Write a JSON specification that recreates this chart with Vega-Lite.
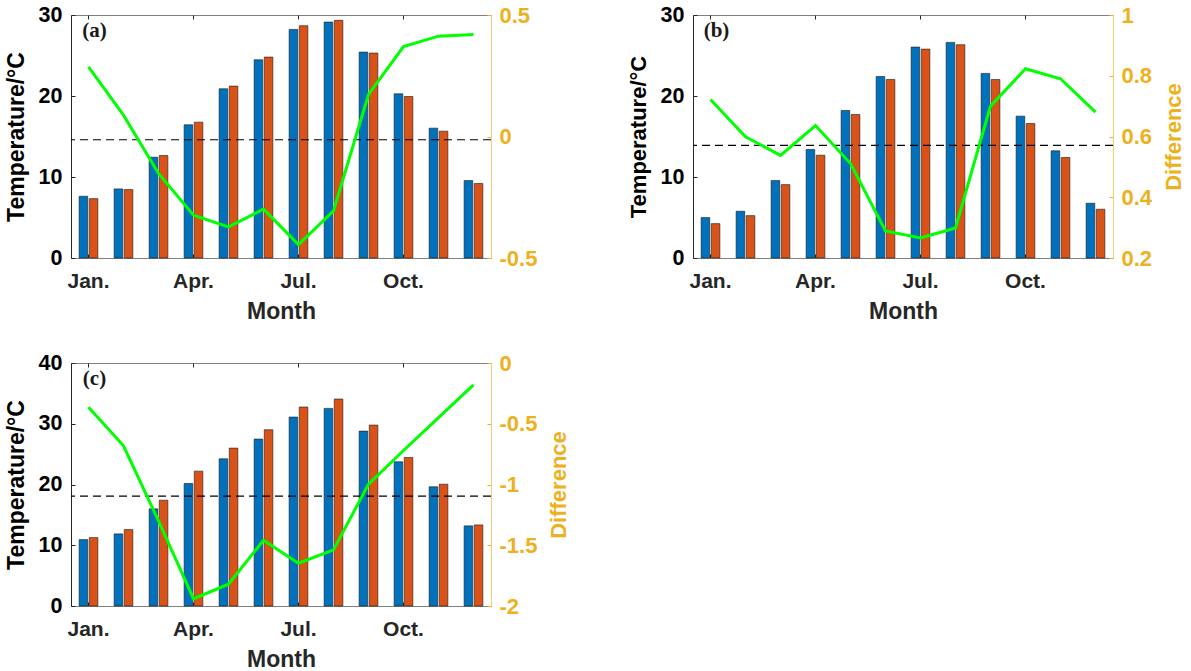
{
  "$schema": "https://vega.github.io/schema/vega-lite/v6.json",
  "background": "white",
  "padding": {"left": 4, "top": 3, "right": 8, "bottom": 0},
  "datasets": {
    "barsA": [
      {"month": "Jan.", "series": "Series 1", "temp": 7.62}, {"month": "Jan.", "series": "Series 2", "temp": 7.33},
      {"month": "Feb.", "series": "Series 1", "temp": 8.53}, {"month": "Feb.", "series": "Series 2", "temp": 8.45},
      {"month": "Mar.", "series": "Series 1", "temp": 12.44}, {"month": "Mar.", "series": "Series 2", "temp": 12.65},
      {"month": "Apr.", "series": "Series 1", "temp": 16.44}, {"month": "Apr.", "series": "Series 2", "temp": 16.77},
      {"month": "May", "series": "Series 1", "temp": 20.89}, {"month": "May", "series": "Series 2", "temp": 21.22},
      {"month": "Jun.", "series": "Series 1", "temp": 24.47}, {"month": "Jun.", "series": "Series 2", "temp": 24.8},
      {"month": "Jul.", "series": "Series 1", "temp": 28.22}, {"month": "Jul.", "series": "Series 2", "temp": 28.68},
      {"month": "Aug.", "series": "Series 1", "temp": 29.13}, {"month": "Aug.", "series": "Series 2", "temp": 29.34},
      {"month": "Sep.", "series": "Series 1", "temp": 25.42}, {"month": "Sep.", "series": "Series 2", "temp": 25.3},
      {"month": "Oct.", "series": "Series 1", "temp": 20.27}, {"month": "Oct.", "series": "Series 2", "temp": 19.94},
      {"month": "Nov.", "series": "Series 1", "temp": 16.03}, {"month": "Nov.", "series": "Series 2", "temp": 15.66},
      {"month": "Dec.", "series": "Series 1", "temp": 9.56}, {"month": "Dec.", "series": "Series 2", "temp": 9.19}
    ],
    "lineA": [
      {"month": "Jan.", "diff": 0.287}, {"month": "Feb.", "diff": 0.088}, {"month": "Mar.", "diff": -0.152},
      {"month": "Apr.", "diff": -0.324}, {"month": "May", "diff": -0.372}, {"month": "Jun.", "diff": -0.299},
      {"month": "Jul.", "diff": -0.445}, {"month": "Aug.", "diff": -0.306}, {"month": "Sep.", "diff": 0.173},
      {"month": "Oct.", "diff": 0.37}, {"month": "Nov.", "diff": 0.413}, {"month": "Dec.", "diff": 0.42}
    ],
    "barsB": [
      {"month": "Jan.", "series": "Series 1", "temp": 4.99}, {"month": "Jan.", "series": "Series 2", "temp": 4.24},
      {"month": "Feb.", "series": "Series 1", "temp": 5.77}, {"month": "Feb.", "series": "Series 2", "temp": 5.23},
      {"month": "Mar.", "series": "Series 1", "temp": 9.56}, {"month": "Mar.", "series": "Series 2", "temp": 9.06},
      {"month": "Apr.", "series": "Series 1", "temp": 13.39}, {"month": "Apr.", "series": "Series 2", "temp": 12.69},
      {"month": "May", "series": "Series 1", "temp": 18.21}, {"month": "May", "series": "Series 2", "temp": 17.72},
      {"month": "Jun.", "series": "Series 1", "temp": 22.41}, {"month": "Jun.", "series": "Series 2", "temp": 22.04},
      {"month": "Jul.", "series": "Series 1", "temp": 26.04}, {"month": "Jul.", "series": "Series 2", "temp": 25.79},
      {"month": "Aug.", "series": "Series 1", "temp": 26.62}, {"month": "Aug.", "series": "Series 2", "temp": 26.33},
      {"month": "Sep.", "series": "Series 1", "temp": 22.79}, {"month": "Sep.", "series": "Series 2", "temp": 22.04},
      {"month": "Oct.", "series": "Series 1", "temp": 17.51}, {"month": "Oct.", "series": "Series 2", "temp": 16.6},
      {"month": "Nov.", "series": "Series 1", "temp": 13.23}, {"month": "Nov.", "series": "Series 2", "temp": 12.4},
      {"month": "Dec.", "series": "Series 1", "temp": 6.76}, {"month": "Dec.", "series": "Series 2", "temp": 6.02}
    ],
    "lineB": [
      {"month": "Jan.", "diff": 0.722}, {"month": "Feb.", "diff": 0.599}, {"month": "Mar.", "diff": 0.538},
      {"month": "Apr.", "diff": 0.636}, {"month": "May", "diff": 0.511}, {"month": "Jun.", "diff": 0.289},
      {"month": "Jul.", "diff": 0.266}, {"month": "Aug.", "diff": 0.299}, {"month": "Sep.", "diff": 0.7},
      {"month": "Oct.", "diff": 0.823}, {"month": "Nov.", "diff": 0.79}, {"month": "Dec.", "diff": 0.68}
    ],
    "barsC": [
      {"month": "Jan.", "series": "Series 1", "temp": 10.93}, {"month": "Jan.", "series": "Series 2", "temp": 11.26},
      {"month": "Feb.", "series": "Series 1", "temp": 11.87}, {"month": "Feb.", "series": "Series 2", "temp": 12.58},
      {"month": "Mar.", "series": "Series 1", "temp": 15.99}, {"month": "Mar.", "series": "Series 2", "temp": 17.42},
      {"month": "Apr.", "series": "Series 1", "temp": 20.16}, {"month": "Apr.", "series": "Series 2", "temp": 22.2},
      {"month": "May", "series": "Series 1", "temp": 24.23}, {"month": "May", "series": "Series 2", "temp": 25.99},
      {"month": "Jun.", "series": "Series 1", "temp": 27.47}, {"month": "Jun.", "series": "Series 2", "temp": 29.01},
      {"month": "Jul.", "series": "Series 1", "temp": 31.1}, {"month": "Jul.", "series": "Series 2", "temp": 32.75},
      {"month": "Aug.", "series": "Series 1", "temp": 32.53}, {"month": "Aug.", "series": "Series 2", "temp": 34.07},
      {"month": "Sep.", "series": "Series 1", "temp": 28.79}, {"month": "Sep.", "series": "Series 2", "temp": 29.78},
      {"month": "Oct.", "series": "Series 1", "temp": 23.74}, {"month": "Oct.", "series": "Series 2", "temp": 24.45},
      {"month": "Nov.", "series": "Series 1", "temp": 19.62}, {"month": "Nov.", "series": "Series 2", "temp": 20.05},
      {"month": "Dec.", "series": "Series 1", "temp": 13.19}, {"month": "Dec.", "series": "Series 2", "temp": 13.35}
    ],
    "lineC": [
      {"month": "Jan.", "diff": -0.365}, {"month": "Feb.", "diff": -0.681}, {"month": "Mar.", "diff": -1.299},
      {"month": "Apr.", "diff": -1.94}, {"month": "May", "diff": -1.821}, {"month": "Jun.", "diff": -1.459},
      {"month": "Jul.", "diff": -1.648}, {"month": "Aug.", "diff": -1.538}, {"month": "Sep.", "diff": -0.997},
      {"month": "Oct.", "diff": -0.72}, {"month": "Nov.", "diff": -0.45}, {"month": "Dec.", "diff": -0.18}
    ]
  },
  "columns": 2,
  "bounds": "flush",
  "spacing": {"row": 105, "column": 202},
  "concat": [
    {
      "width": 420, "height": 243,
      "layer": [
        {
          "layer": [
            {
              "data": {"name": "barsA"},
              "mark": {"type": "bar", "stroke": "#1a1a1a", "strokeWidth": 0.6},
              "encoding": {
                "x": {"field": "month", "type": "ordinal",
                  "scale": {"domain": ["Jan.","Feb.","Mar.","Apr.","May","Jun.","Jul.","Aug.","Sep.","Oct.","Nov.","Dec."], "paddingInner": 0.465, "paddingOuter": 0.2325},
                  "axis": {"orient": "bottom", "values": ["Jan.","Apr.","Jul.","Oct."], "title": "Month"}},
                "xOffset": {"field": "series", "type": "nominal", "scale": {"paddingInner": 0.15, "paddingOuter": 0}},
                "y": {"field": "temp", "type": "quantitative", "scale": {"domain": [0, 30], "nice": false},
                  "axis": {"orient": "left", "values": [0, 10, 20, 30], "title": "Temperature/°C"}},
                "color": {"field": "series", "type": "nominal", "scale": {"range": ["#0072BD", "#D95319"]}, "legend": null}
              }
            },
            {
              "data": {"values": [{"ref": 14.6}]},
              "mark": {"type": "rule", "color": "#000000", "strokeWidth": 1.2, "strokeDash": [8, 5]},
              "encoding": {"y": {"field": "ref", "type": "quantitative"}}
            },
            {
              "data": {"values": [{"label": "(a)", "month": "Jan.", "pos": 27.3}]},
              "mark": {"type": "text", "font": "Liberation Serif", "fontWeight": "bold", "fontSize": 21, "color": "#1a1a1a", "align": "center", "baseline": "alphabetic", "dx": 6},
              "encoding": {"x": {"field": "month", "type": "ordinal"}, "y": {"field": "pos", "type": "quantitative"}, "text": {"field": "label"}}
            }
          ]
        },
        {
          "data": {"name": "lineA"},
          "mark": {"type": "line", "color": "#00FF00", "strokeWidth": 3},
          "encoding": {
            "x": {"field": "month", "type": "ordinal", "axis": {"orient": "top", "values": ["Jan.","Apr.","Jul.","Oct."], "title": null}},
            "y": {"field": "diff", "type": "quantitative", "scale": {"domain": [-0.5, 0.5], "nice": false},
              "axis": {"orient": "right", "values": [-0.5, 0, 0.5], "title": null,
                "labelExpr": "datum.value < 0 ? '-' + abs(datum.value) : '' + datum.value"}}
          }
        }
      ],
      "resolve": {"scale": {"y": "independent"}, "axis": {"x": "independent"}}
    },
    {
      "width": 420, "height": 243,
      "layer": [
        {
          "layer": [
            {
              "data": {"name": "barsB"},
              "mark": {"type": "bar", "stroke": "#1a1a1a", "strokeWidth": 0.6},
              "encoding": {
                "x": {"field": "month", "type": "ordinal",
                  "scale": {"domain": ["Jan.","Feb.","Mar.","Apr.","May","Jun.","Jul.","Aug.","Sep.","Oct.","Nov.","Dec."], "paddingInner": 0.465, "paddingOuter": 0.2325},
                  "axis": {"orient": "bottom", "values": ["Jan.","Apr.","Jul.","Oct."], "title": "Month"}},
                "xOffset": {"field": "series", "type": "nominal", "scale": {"paddingInner": 0.15, "paddingOuter": 0}},
                "y": {"field": "temp", "type": "quantitative", "scale": {"domain": [0, 30], "nice": false},
                  "axis": {"orient": "left", "values": [0, 10, 20, 30], "title": "Temperature/°C", "titleFontSize": 22}},
                "color": {"field": "series", "type": "nominal", "scale": {"range": ["#0072BD", "#D95319"]}, "legend": null}
              }
            },
            {
              "data": {"values": [{"ref": 13.9}]},
              "mark": {"type": "rule", "color": "#000000", "strokeWidth": 1.2, "strokeDash": [8, 5]},
              "encoding": {"y": {"field": "ref", "type": "quantitative"}}
            },
            {
              "data": {"values": [{"label": "(b)", "month": "Jan.", "pos": 27.3}]},
              "mark": {"type": "text", "font": "Liberation Serif", "fontWeight": "bold", "fontSize": 21, "color": "#1a1a1a", "align": "center", "baseline": "alphabetic", "dx": 6},
              "encoding": {"x": {"field": "month", "type": "ordinal"}, "y": {"field": "pos", "type": "quantitative"}, "text": {"field": "label"}}
            }
          ]
        },
        {
          "data": {"name": "lineB"},
          "mark": {"type": "line", "color": "#00FF00", "strokeWidth": 3},
          "encoding": {
            "x": {"field": "month", "type": "ordinal", "axis": {"orient": "top", "values": ["Jan.","Apr.","Jul.","Oct."], "title": null}},
            "y": {"field": "diff", "type": "quantitative", "scale": {"domain": [0.2, 1], "nice": false},
              "axis": {"orient": "right", "values": [0.2, 0.4, 0.6, 0.8, 1], "title": "Difference",
                "labelExpr": "datum.value < 0 ? '-' + abs(datum.value) : '' + datum.value"}}
          }
        }
      ],
      "resolve": {"scale": {"y": "independent"}, "axis": {"x": "independent"}}
    },
    {
      "width": 420, "height": 243,
      "layer": [
        {
          "layer": [
            {
              "data": {"name": "barsC"},
              "mark": {"type": "bar", "stroke": "#1a1a1a", "strokeWidth": 0.6},
              "encoding": {
                "x": {"field": "month", "type": "ordinal",
                  "scale": {"domain": ["Jan.","Feb.","Mar.","Apr.","May","Jun.","Jul.","Aug.","Sep.","Oct.","Nov.","Dec."], "paddingInner": 0.465, "paddingOuter": 0.2325},
                  "axis": {"orient": "bottom", "values": ["Jan.","Apr.","Jul.","Oct."], "title": "Month"}},
                "xOffset": {"field": "series", "type": "nominal", "scale": {"paddingInner": 0.15, "paddingOuter": 0}},
                "y": {"field": "temp", "type": "quantitative", "scale": {"domain": [0, 40], "nice": false},
                  "axis": {"orient": "left", "values": [0, 10, 20, 30, 40], "title": "Temperature/°C"}},
                "color": {"field": "series", "type": "nominal", "scale": {"range": ["#0072BD", "#D95319"]}, "legend": null}
              }
            },
            {
              "data": {"values": [{"ref": 18.1}]},
              "mark": {"type": "rule", "color": "#000000", "strokeWidth": 1.2, "strokeDash": [8, 5]},
              "encoding": {"y": {"field": "ref", "type": "quantitative"}}
            },
            {
              "data": {"values": [{"label": "(c)", "month": "Jan.", "pos": 36.4}]},
              "mark": {"type": "text", "font": "Liberation Serif", "fontWeight": "bold", "fontSize": 21, "color": "#1a1a1a", "align": "center", "baseline": "alphabetic", "dx": 6},
              "encoding": {"x": {"field": "month", "type": "ordinal"}, "y": {"field": "pos", "type": "quantitative"}, "text": {"field": "label"}}
            }
          ]
        },
        {
          "data": {"name": "lineC"},
          "mark": {"type": "line", "color": "#00FF00", "strokeWidth": 3},
          "encoding": {
            "x": {"field": "month", "type": "ordinal", "axis": {"orient": "top", "values": ["Jan.","Apr.","Jul.","Oct."], "title": null}},
            "y": {"field": "diff", "type": "quantitative", "scale": {"domain": [-2, 0], "nice": false},
              "axis": {"orient": "right", "values": [-2, -1.5, -1, -0.5, 0], "title": "Difference",
                "labelExpr": "datum.value < 0 ? '-' + abs(datum.value) : '' + datum.value"}}
          }
        }
      ],
      "resolve": {"scale": {"y": "independent"}, "axis": {"x": "independent"}}
    }
  ],
  "config": {
    "font": "Liberation Sans",
    "view": {"stroke": "#808080", "strokeWidth": 1},
    "axis": {"grid": false, "labelFont": "Liberation Sans", "titleFont": "Liberation Sans", "labelFontWeight": "bold", "titleFontWeight": "bold"},
    "axisBottom": {"domainColor": "#808080", "tickColor": "#262626", "tickSize": -4, "labelColor": "#262626", "labelFontSize": 21, "labelPadding": 16, "labelAngle": 0, "titleColor": "#262626", "titleFontSize": 23, "titlePadding": 9},
    "axisTop": {"domain": false, "labels": false, "tickColor": "#262626", "tickSize": -4},
    "axisLeft": {"domainColor": "#262626", "tickColor": "#262626", "tickSize": -4, "labelColor": "#000000", "labelFontSize": 21.5, "labelPadding": 13, "titleColor": "#000000", "titleFontSize": 23, "titlePadding": 10},
    "axisRight": {"domainColor": "#F2CF75", "tickColor": "#EDB120", "tickSize": -4, "labelColor": "#EDB120", "labelFontSize": 22, "labelPadding": 12, "titleColor": "#EDB120", "titleFontSize": 22, "titlePadding": 12, "titleAngle": 270, "titleBaseline": "top"}
  }
}
